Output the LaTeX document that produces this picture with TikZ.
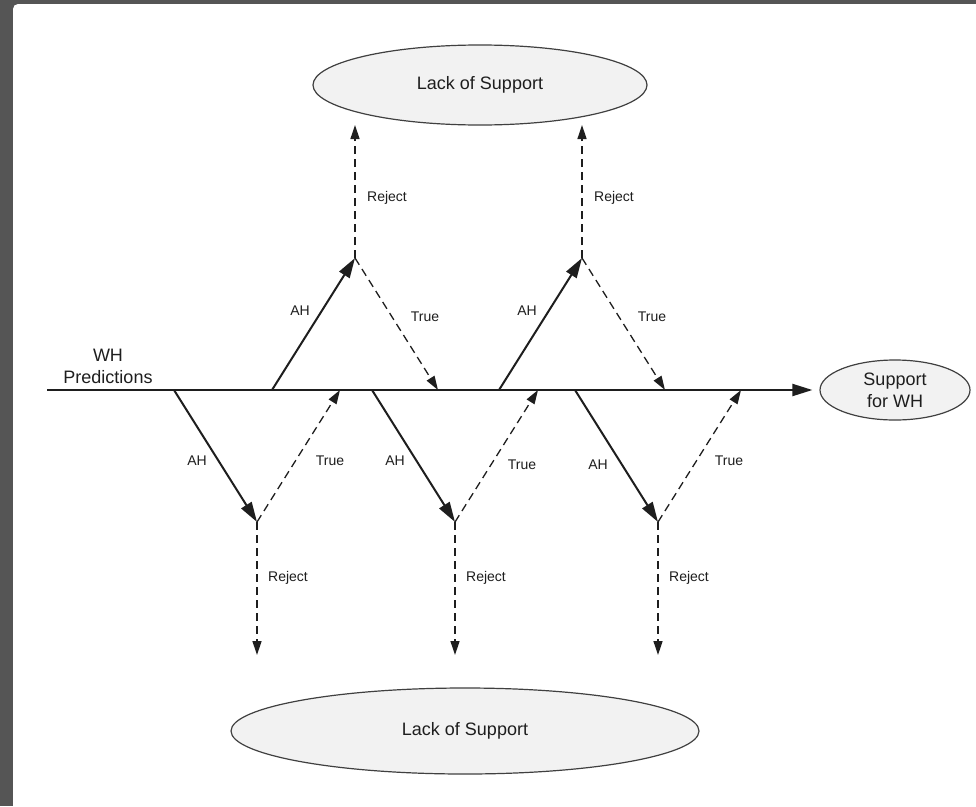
\documentclass[tikz,border=0pt]{standalone}
\usepackage{fontspec}
\setmainfont{Liberation Sans}
\usetikzlibrary{arrows.meta,shapes.geometric}
\definecolor{frame}{HTML}{555555}
\definecolor{ink}{HTML}{1E1E1E}
\definecolor{blob}{HTML}{F2F2F2}

\begin{document}
\begin{tikzpicture}[x=1pt,y=-1pt,
  outcome/.style={ellipse,draw=ink!85,line width=1.2pt,fill=blob,inner sep=0pt,
    align=center,text=ink,font=\fontsize{18}{22}\selectfont},
  tag/.style={inner sep=0pt,text=ink,font=\fontsize{14}{16}\selectfont},
  ah/.style={ink,line width=2pt,-{Triangle[length=20pt,width=12pt]}},
  test/.style={ink,line width=1.3pt,dash pattern=on 8pt off 5pt,
    -{Triangle[length=14pt,width=9pt]}}]
% frame
\useasboundingbox (0,0) rectangle (976,806);
\fill[frame] (0,0) rectangle (976,806);
\fill[white,rounded corners=5pt] (13,4) rectangle (990,820);

% outcomes
\node[outcome,minimum width=334pt,minimum height=80pt] (lacktop) at (480,85) {Lack of Support};
\node[outcome,minimum width=468pt,minimum height=86pt] (lackbot) at (465,731) {Lack of Support};
\node[outcome,minimum width=150pt,minimum height=60pt] (support) at (895,390) {Support\\for WH};
\node[align=center,text=ink,font=\fontsize{18}{22}\selectfont] (pred) at (108,366) {WH\\Predictions};

% main line
\coordinate (start) at (47,390);
\draw[ah,shorten >=7pt] (start) -- (support.west);

% branches above the line
\foreach \x/\n in {272/1,499/2}{
  \coordinate (foot\n) at (\x,390);
  \coordinate (peak\n) at (\x+83,258);
  \coordinate (land\n) at (\x+166,390);
  \coordinate (up\n) at (\x+83,125);
  \draw[ah] (foot\n) -- (peak\n);
  \draw[test] (peak\n) -- (up\n);
  \draw[test] (peak\n) -- (land\n);
  \node[tag] (ahup\n) at (\x+28,311) {AH};
  \node[tag] (trueup\n) at (\x+153,317) {True};
  \node[tag] (rejup\n) at (\x+115,198) {Reject};
}

% branches below the line
\foreach \x/\n/\ay/\tx/\ty in {174/1/461/330/461,372/2/461/522/465,575/3/465/729/461}{
  \coordinate (top\n) at (\x,390);
  \coordinate (dip\n) at (\x+83,522);
  \coordinate (back\n) at (\x+166,390);
  \coordinate (down\n) at (\x+83,655);
  \draw[ah] (top\n) -- (dip\n);
  \draw[test] (dip\n) -- (down\n);
  \draw[test] (dip\n) -- (back\n);
  \node[tag] (ahdn\n) at (\x+23,\ay) {AH};
  \node[tag] (truedn\n) at (\tx,\ty) {True};
  \node[tag] (rejdn\n) at (\x+114,578) {Reject};
}
\end{tikzpicture}
\end{document}
